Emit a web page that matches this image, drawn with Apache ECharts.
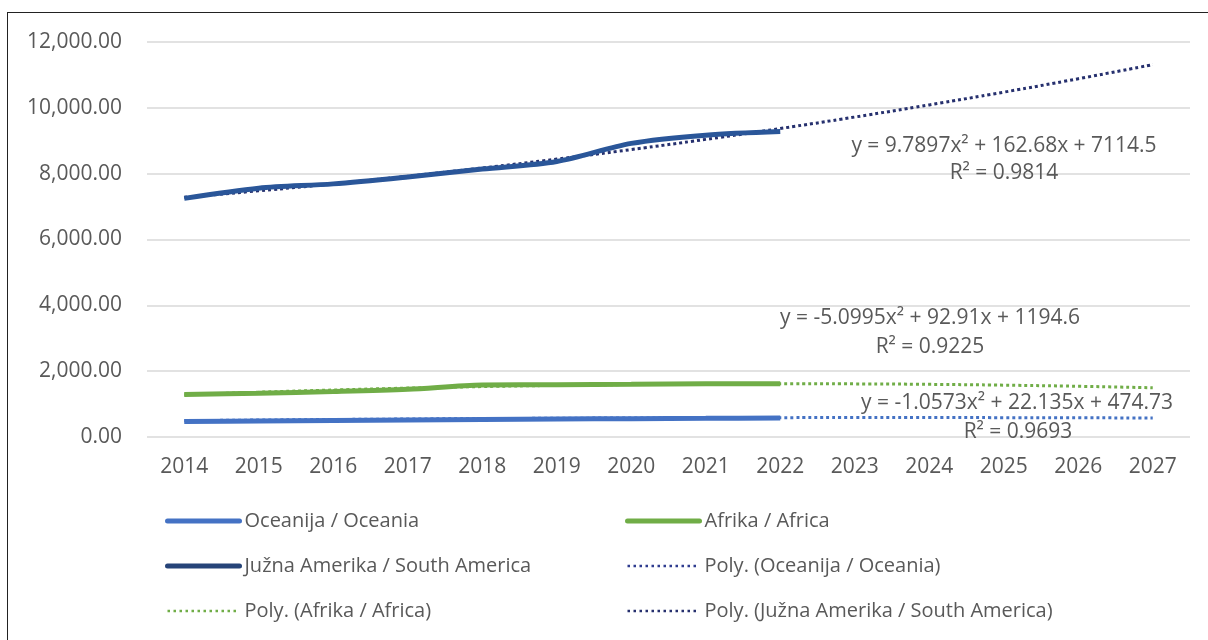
<!DOCTYPE html>
<html><head><meta charset="utf-8">
<script src="https://cdn.jsdelivr.net/npm/echarts@6/dist/echarts.min.js"></script>
<style>
html,body{margin:0;padding:0;background:#fff;}
#frame{position:absolute;left:7px;top:12px;width:1210px;height:640px;border-left:1.5px solid #222;border-top:1.5px solid #222;z-index:5;pointer-events:none;}
#chart{position:absolute;left:0;top:0;width:1208px;height:640px;}
</style></head>
<body>
<div id="chart"></div>
<div id="frame"></div>
<script>
const years = ['2014','2015','2016','2017','2018','2019','2020','2021','2022','2023','2024','2025','2026','2027'];
const oceania = [470, 488, 503, 518, 533, 545, 557, 567, 578];
const africa = [1290, 1330, 1380, 1450, 1580, 1590, 1600, 1615, 1620];
const southAmerica = [7250, 7560, 7690, 7900, 8140, 8370, 8920, 9170, 9280];
const trendOceania = [496, 515, 532, 546, 559, 569, 578, 584, 588, 590, 590, 588, 584, 577];
const trendAfrica = [1282, 1360, 1427, 1485, 1532, 1568, 1595, 1612, 1618, 1614, 1600, 1575, 1541, 1496];
const trendSouthAmerica = [7287, 7479, 7691, 7922, 8173, 8443, 8733, 9042, 9372, 9720, 10089, 10476, 10884, 11311];
const yTicks = [0, 2000, 4000, 6000, 8000, 10000, 12000];
const equations = [
  ['y = 9.7897x² + 162.68x + 7114.5', 'R² = 0.9814'],
  ['y = -5.0995x² + 92.91x + 1194.6', 'R² = 0.9225'],
  ['y = -1.0573x² + 22.135x + 474.73', 'R² = 0.9693']
];
const names = {
  oc: 'Oceanija / Oceania', af: 'Afrika / Africa', sa: 'Južna Amerika / South America',
  toc: 'Poly. (Oceanija / Oceania)', taf: 'Poly. (Afrika / Africa)', tsa: 'Poly. (Južna Amerika / South America)'
};

const FONT = 'Open Sans';
const TXT = '#595959';
const chart = echarts.init(document.getElementById('chart'));

function fmt(v){ return v.toLocaleString('en-US',{minimumFractionDigits:2, maximumFractionDigits:2}); }

const eqText = (t, x, y) => ({type:'text', x:x, y:y, silent:true, z:50,
  style:{text:t, font:'21px "'+FONT+'"', fill:TXT, align:'center', verticalAlign:'middle'}});

const legendText = {color: TXT, fontFamily: FONT, fontSize: 20, lineHeight: 22};
const DOT = [3, 3];
const solidItem = (n, c) => ({name:n, lineStyle:{width:5, color:c, type:'solid', cap:'round'}});
const dotItem = (n, c) => ({name:n, lineStyle:{width:2.5, color:c, type:[2.5,3.5]}});

chart.setOption({
  animation:false,
  backgroundColor:'transparent',
  grid:{left:147, right:18, top:42, bottom:203, containLabel:false},
  xAxis:{type:'category', data:years, boundaryGap:true,
    axisLine:{show:false}, axisTick:{show:false},
    axisLabel:{color:TXT, fontFamily:FONT, fontSize:21, margin:20}},
  yAxis:{type:'value', min:yTicks[0], max:yTicks[yTicks.length-1], interval:2000,
    axisLine:{show:false}, axisTick:{show:false},
    splitLine:{lineStyle:{color:'#d9d9d9', width:1.5}},
    axisLabel:{color:TXT, fontFamily:FONT, fontSize:21, margin:25, formatter:fmt}},
  legend:[
    {orient:'vertical', left:165, top:510, padding:0, itemWidth:72, itemHeight:14, itemGap:23,
     itemStyle:{opacity:0},
     data:[solidItem(names.oc,'#4472C4'), solidItem(names.sa,'#264478'), dotItem(names.taf,'#70AD47')], textStyle:legendText},
    {orient:'vertical', left:625, top:510, padding:0, itemWidth:72, itemHeight:14, itemGap:23,
     itemStyle:{opacity:0},
     data:[solidItem(names.af,'#70AD47'), dotItem(names.toc,'#2F3C8F'), dotItem(names.tsa,'#26306E')], textStyle:legendText}
  ],
  series:[
    {name:names.toc, type:'line', data:trendOceania, symbol:'none', smooth:true, z:2,
     lineStyle:{color:'#4472C4', width:3, type:DOT}, itemStyle:{color:'#2F3C8F'}},
    {name:names.taf, type:'line', data:trendAfrica, symbol:'none', smooth:true, z:2,
     lineStyle:{color:'#70AD47', width:3, type:DOT}, itemStyle:{color:'#70AD47'}},
    {name:names.tsa, type:'line', data:trendSouthAmerica, symbol:'none', smooth:true, z:2,
     lineStyle:{color:'#26306E', width:3, type:DOT}, itemStyle:{color:'#26306E'}},
    {name:names.oc, type:'line', data:oceania, symbol:'none', smooth:0.3, z:3,
     lineStyle:{color:'#4472C4', width:5}, itemStyle:{color:'#4472C4'}},
    {name:names.af, type:'line', data:africa, symbol:'none', smooth:0.3, z:3,
     lineStyle:{color:'#70AD47', width:5}, itemStyle:{color:'#70AD47'}},
    {name:names.sa, type:'line', data:southAmerica, symbol:'none', smooth:0.3, z:3,
     lineStyle:{color:'#2A5699', width:5}, itemStyle:{color:'#264478'}}
  ],
  graphic:[
    eqText(equations[0][0], 1004, 146), eqText(equations[0][1], 1004, 173),
    eqText(equations[1][0], 930, 318), eqText(equations[1][1], 930, 347),
    eqText(equations[2][0], 1017, 403), eqText(equations[2][1], 1018, 432)
  ]
});
</script>
</body></html>
